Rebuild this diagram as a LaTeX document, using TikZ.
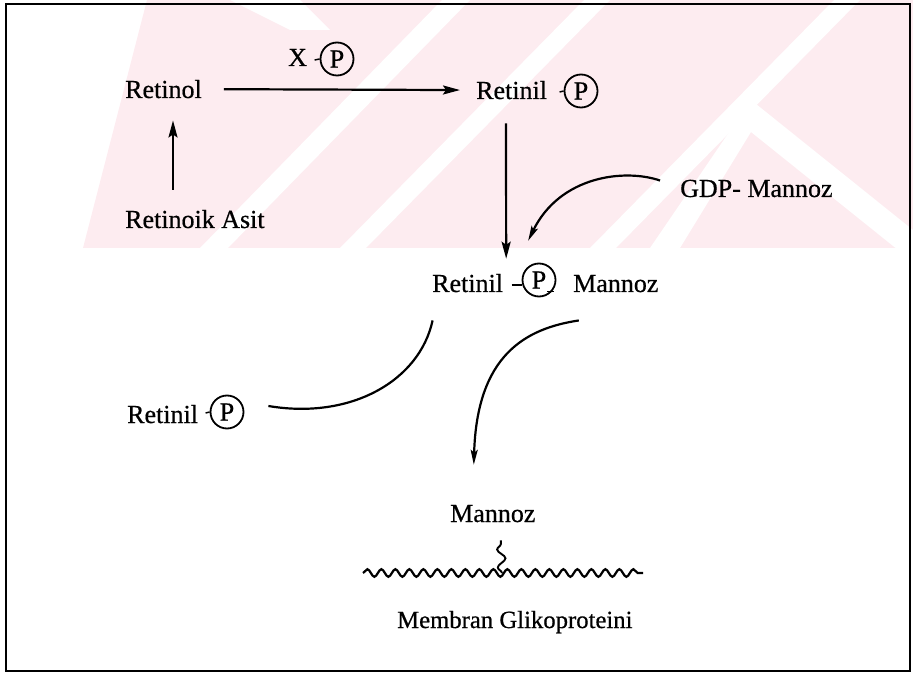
\documentclass[tikz,border=0pt]{standalone}
\usepackage{fontspec}
\setmainfont{Liberation Serif}[FakeBold=0.6]
\usetikzlibrary{arrows.meta,decorations.pathmorphing,calc}
\definecolor{wmpink}{RGB}{253,236,240}
\begin{document}
\begin{tikzpicture}[x=1pt,y=-1pt,
  lbl/.style={anchor=base west, inner sep=0pt, font=\fontsize{26}{30}\selectfont},
  pc/.style={draw, circle, line width=1.8pt, minimum size=33pt, inner sep=0pt, font=\fontsize{26}{30}\selectfont},
  arr/.style={line width=2.2pt, -{Stealth[length=17pt,width=9pt,inset=3pt]}},
  carr/.style={line width=2.2pt, -{Stealth[length=15pt,width=7pt,inset=3pt]}},
  ln/.style={line width=2.2pt},
  tick/.style={line width=1.5pt},
  wavy/.style={line width=2.2pt, decorate, decoration={snake, segment length=14pt, amplitude=3.8pt}},
  squig/.style={line width=1.9pt, decorate, decoration={snake, segment length=18pt, amplitude=4pt}}
]
\useasboundingbox (0,0) rectangle (913,676);
% faint watermark
\fill[wmpink] (83,248) -- (147,0) -- (913,0) -- (913,248) -- cycle;
\fill[white] (200,248) -- (228,248) -- (470,0) -- (442,0) -- cycle;
\fill[white] (340,248) -- (366,248) -- (610,0) -- (584,0) -- cycle;
\fill[white] (590,248) -- (616,248) -- (860,0) -- (834,0) -- cycle;
\fill[white] (650,248) -- (751,100) -- (913,230) -- (913,262) -- (751,132) -- (680,248) -- cycle;
\fill[white] (230,0) -- (300,0) -- (330,30) -- (290,30) -- cycle;
% frame
\draw[line width=2.6pt] (6,4) rectangle (910,671);
% nodes
\node[lbl] (retinol) at (125,98) {Retinol};
\node[lbl] (x) at (288,66) {X};
\node[pc] (xp) at (337,59) {P};
\node[lbl] (retA) at (476,99) {Retinil};
\node[pc] (retAp) at (581,91) {P};
\node[lbl] (asit) at (125,228) {Retinoik Asit};
\node[lbl] (gdp) at (680,197) {GDP- Mannoz};
\node[lbl] (rpmR) at (432,292) {Retinil};
\node[pc] (rpmP) at (539,280) {P};
\node[lbl] (rpmM) at (573,292) {Mannoz};
\node[lbl] (retB) at (127,423) {Retinil};
\node[pc] (retBp) at (227,412) {P};
\node[lbl] (mannoz) at (450,522) {Mannoz};
\node[lbl, font=\fontsize{24.7}{28}\selectfont] (membran) at (397,628) {Membran Glikoproteini};
% small ticks by the circled P
\draw[tick] (xp.west) -- ++(-5,1);
\draw[tick] (retAp.west) -- ++(-4,1);
\draw[tick] (retBp.west) -- ++(-4,1);
\draw[tick] ($(rpmP.west)+(-10,5)$) -- ($(rpmP.west)+(0,5)$);
\draw[tick] ($(rpmP.south east)+(-4,-1)$) -- ++(7,0);
% connectors
\draw[arr, shorten <=22pt, shorten >=16pt] (retinol.east) -- (retA.west);
\draw[arr] ($(asit.north west)+(48,-20)$) -- ($(retinol.south west)+(48,22)$);
\draw[arr] ($(retA.south west)+(30,24)$) -- ($(rpmR.north east)+(3,-15)$);
\draw[carr] ($(gdp.west)+(-20,-8)$) .. controls ($(gdp.west)+(-55,-20)$) and ($(gdp.west)+(-120,-13)$) .. ($(rpmR.north east)+(25,-33)$);
\draw[ln] ($(rpmR.south)+(-35,28)$) .. controls ($(rpmR.south)+(-48,88)$) and ($(retBp.east)+(107,8)$) .. ($(retBp.east)+(24,-6)$);
\draw[carr] ($(rpmM.south)+(-37,28)$) .. controls ($(rpmM.south)+(-90,36)$) and ($(mannoz.north)+(-16,-150)$) .. ($(mannoz.north)+(-19,-40)$);
% membrane
\coordinate (memL) at (363,573);
\coordinate (memR) at (643,573);
\coordinate (memJ) at (502,573);
\draw[wavy] (memL) -- (memR);
\draw[squig] (memJ) -- ($(mannoz.south)+(8,18)$);
\end{tikzpicture}
\end{document}
